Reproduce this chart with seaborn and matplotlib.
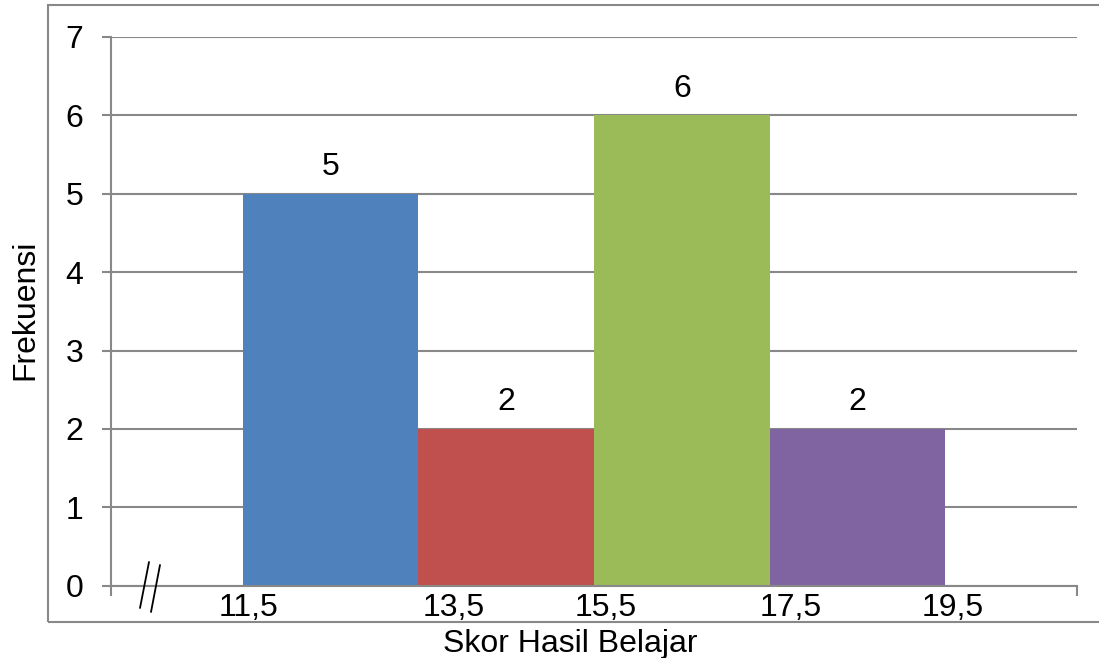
import matplotlib
matplotlib.use("Agg")
import matplotlib.pyplot as plt
from matplotlib.patches import Rectangle
from matplotlib.lines import Line2D
import seaborn as sns
import pandas as pd

# Class boundaries of the score intervals and their frequencies
edges = [11.5, 13.5, 15.5, 17.5, 19.5]
frequencies = [5, 2, 6, 2]
edge_labels = ["11,5", "13,5", "15,5", "17,5", "19,5"]
bar_colors = ["#4F81BD", "#C0504D", "#9BBB59", "#8064A2"]
x_title = "Skor Hasil Belajar"
y_title = "Frekuensi"

# small horizontal nudges for the boundary labels (data units)
label_shift = [0.07, 0.40, 0.13, 0.24, 0.08]

sns.set_theme(style="white")
plt.rcParams["font.family"] = ["Liberation Sans", "DejaVu Sans"]
FS = 23
GREY = "#888888"

mids = [(a + b) / 2 for a, b in zip(edges[:-1], edges[1:])]
df = pd.DataFrame({"mid": mids, "freq": frequencies})

fig = plt.figure(figsize=(10.99, 6.58), dpi=100)
ax = fig.add_axes([111 / 1099, 1 - 585.7 / 658, 966 / 1099, 548.7 / 658])

sns.barplot(data=df, x="mid", y="freq", hue="mid", palette=bar_colors,
            native_scale=True, width=1.0, legend=False, saturation=1,
            linewidth=0, edgecolor="none", ax=ax, zorder=2)

ax.set_xlim(10, 21)
ax.set_ylim(0, 7)
ax.set_xlabel("")
ax.set_ylabel("")

# horizontal gridlines behind the bars
ax.set_axisbelow(True)
ax.yaxis.grid(True, color=GREY, linewidth=1.5)
ax.xaxis.grid(False)
for side in ("top", "right"):
    ax.spines[side].set_visible(False)
for side in ("left", "bottom"):
    ax.spines[side].set_color(GREY)
    ax.spines[side].set_linewidth(1.5)

ax.set_yticks(range(0, 8))
ax.tick_params(axis="y", direction="out", length=6.5, width=1.5, color=GREY,
               labelsize=FS, pad=13.5, labelcolor="black", left=True)
ax.set_xticks([10, 21])
ax.set_xticklabels(["", ""])
ax.tick_params(axis="x", direction="out", length=7, width=1.5, color=GREY,
               bottom=True)

# class boundary labels under the axis
for e, lab, s in zip(edges, edge_labels, label_shift):
    ax.annotate(lab, xy=(e + s, 0), xycoords=("data", "axes fraction"),
                xytext=(0, -5), textcoords="offset points",
                ha="center", va="top", fontsize=FS, color="black",
                annotation_clip=False)

# frequency labels above each bar
for m, f in zip(mids, frequencies):
    ax.annotate(str(f), xy=(m, f), xytext=(0, 13.5), textcoords="offset points",
                ha="center", va="baseline", fontsize=FS, color="black")

# axis break mark near the origin
for x0, y0, x1, y1 in [(140, 608, 149, 562), (151, 612, 160, 565)]:
    fig.add_artist(Line2D([x0 / 1099, x1 / 1099], [1 - y0 / 658, 1 - y1 / 658],
                          transform=fig.transFigure, color="black", lw=1.3))

fig.text(570 / 1099, 1 - 652 / 658, x_title, ha="center", va="baseline",
         fontsize=FS, color="black")
fig.text(25 / 1099, 1 - 310 / 658, y_title, rotation=90, ha="center",
         va="center", fontsize=FS, color="black")

# outer chart frame
fig.add_artist(Rectangle((48 / 1099, 1 - 622 / 658), 1.2, (622 - 5) / 658,
                         transform=fig.transFigure, fill=False,
                         edgecolor=GREY, linewidth=1.5))

fig.savefig("out.png", dpi=100)
